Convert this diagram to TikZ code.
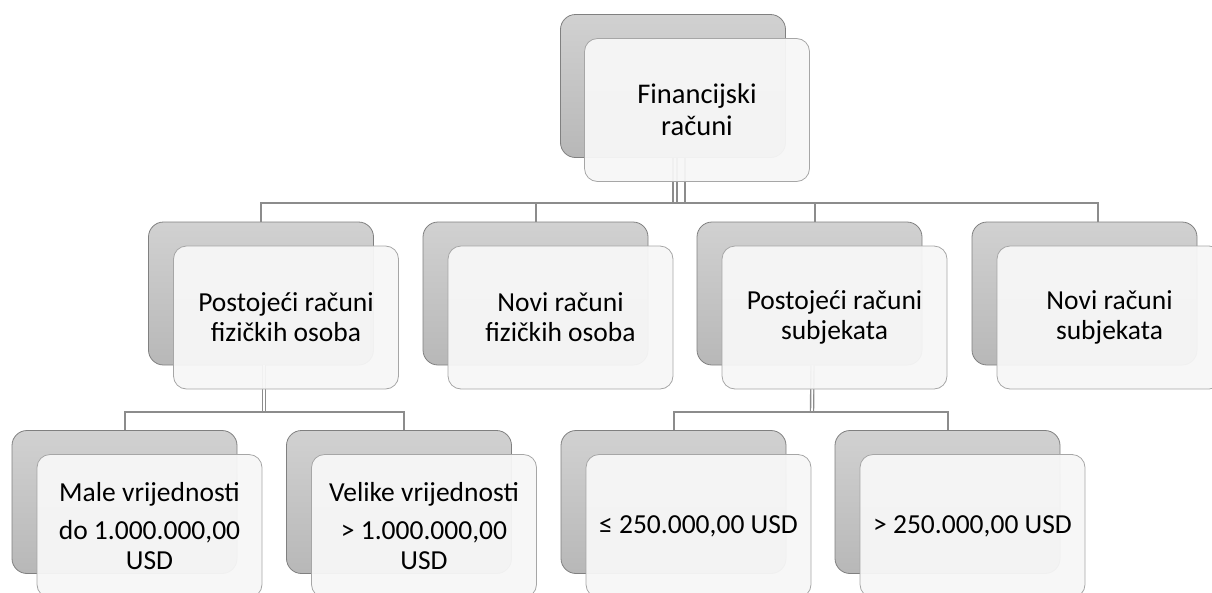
\documentclass[tikz,border=0pt]{standalone}
\usepackage{fontspec}
\setmainfont{Carlito}
\usetikzlibrary{positioning}

\tikzset{
  backbox/.style={rectangle, rounded corners=15pt, draw=black!50, line width=0.8pt,
    top color=black!18, bottom color=black!28, minimum width=225pt,
    minimum height=143pt, inner sep=0pt},
  frontbox/.style={rectangle, rounded corners=13pt, draw=black!35, line width=0.8pt,
    fill=black!3, fill opacity=0.94, text opacity=1, minimum width=225pt,
    minimum height=143pt, inner sep=0pt, align=center,
    font=\fontsize{27.5}{30}\selectfont},
  conn/.style={draw=black!45, line width=2pt},
  twin/.style={draw=black!45, line width=1.4pt, double=white, double distance=1.6pt}
}

\begin{document}
\begin{tikzpicture}[x=1pt,y=-1pt]
  \useasboundingbox (0,0) rectangle (1212,592);
  % back boxes
  \node[backbox] (fin-b) at (673,86) {};
  \node[backbox] (pfo-b) at (261,293.5) {};
  \node[backbox] (nfo-b) at (535.5,293.5) {};
  \node[backbox] (psu-b) at (809.5,293.5) {};
  \node[backbox] (nsu-b) at (1084.5,293.5) {};
  \node[backbox] (mal-b) at (124.5,502) {};
  \node[backbox] (vel-b) at (399,502) {};
  \node[backbox] (dod-b) at (673.5,502) {};
  \node[backbox] (odd-b) at (947.5,502) {};
  % connectors
  \coordinate (bus1) at (673,203);
  \coordinate (bus2a) at (264,412);
  \coordinate (bus2b) at (812,412);
  \foreach \dx in {0,4,12}
    \draw[conn] ([xshift=\dx pt]fin-b.south) -- ([xshift=\dx pt]bus1);
  \draw[conn] (pfo-b.north) |- (bus1) -| ([xshift=13pt]nsu-b.north);
  \draw[conn] (bus1) -| (nfo-b.north);
  \draw[conn] (bus1) -| ([xshift=5pt]psu-b.north);
  \draw[twin] ([xshift=3pt]pfo-b.south) -- (bus2a);
  \draw[twin] ([xshift=3pt]psu-b.south) -- (bus2b);
  \draw[conn] (mal-b.north) |- (bus2a) -| ([xshift=5pt]vel-b.north);
  \draw[conn] (dod-b.north) |- (bus2b) -| (odd-b.north);
  % front boxes
  \node[frontbox, font=\fontsize{28.5}{32}\selectfont] (fin)
    at ([shift={(24,24)}]fin-b) {Financijski\\računi};
  \node[frontbox] (pfo) at ([shift={(25,24)}]pfo-b) {Postojeći računi\\fizičkih osoba};
  \node[frontbox] (nfo) at ([shift={(25,24)}]nfo-b) {Novi računi\\fizičkih osoba};
  \node[frontbox] (psu) at ([shift={(25,24)}]psu-b) {Postojeći računi\\subjekata};
  \node[frontbox] (nsu) at ([shift={(25,24)}]nsu-b) {Novi računi\\subjekata};
  \node[frontbox] (mal) at ([shift={(25,24)}]mal-b)
    {Male vrijednosti\\[8pt]do 1.000.000,00\\USD};
  \node[frontbox] (vel) at ([shift={(25,24)}]vel-b)
    {Velike vrijednosti\\[8pt]> 1.000.000,00\\USD};
  \node[frontbox] (dod) at ([shift={(25,24)}]dod-b) {≤ 250.000,00 USD};
  \node[frontbox] (odd) at ([shift={(25,24)}]odd-b) {> 250.000,00 USD};
\end{tikzpicture}
\end{document}
